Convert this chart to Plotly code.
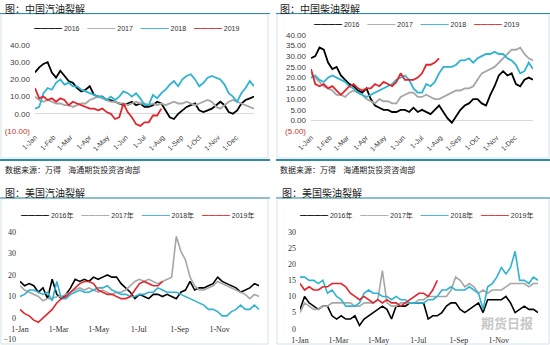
import plotly.graph_objects as go
import pandas as pd

# ---------------- data (weekly readings, one value per week of the year) ----------------
weeks = pd.date_range("2019-01-01", periods=53, freq="7D")

years_cn = ["2016", "2017", "2018", "2019"]
years_us = ["2016年", "2017年", "2018年", "2019年"]
colors = ["#000000", "#a6a6a6", "#2fb3d3", "#e0262c"]

# China gasoline crack
cn_gas_2016 = [24, 27, 29, 30, 24, 21, 25, 22, 19, 18, 15, 13, 14, 16, 11, 10, 10, 8, 8, 7, 6, 5, 6, 7, 5, 6, 4, 4,
               5, 7, 6, 2, -2, -3, 0, 2, 4, 5, 6, 2, 1, 2, 3, 5, 7, 5, 1, 0, 2, 6, 8, 9, 10]
cn_gas_2017 = [10, 8, 7, 8, 7, 6, 6, 5, 5, 4, 5, 6, 6, 8, 9, 10, 9, 8, 7, 7, 6, 6, 5, 6, 7, 6, 6, 5, 6, 5, 6, 5, 6,
               7, 6, 6, 7, 6, 5, 6, 7, 8, 7, 4, 3, 5, 7, 8, 7, 6, 5, 4, 3]
cn_gas_2018 = [3, 4, 12, 15, 14, 18, 20, 17, 18, 16, 16, 14, 13, 12, 11, 10, 10, 8, 10, 8, 10, 13, 12, 10, 12, 9, 5,
               5, 11, 9, 12, 14, 17, 19, 16, 20, 22, 23, 20, 16, 18, 21, 22, 21, 20, 17, 12, 10, 7, 12, 15, 19, 16]
cn_gas_2019 = [15, 9, 10, 8, 9, 7, 9, 8, 5, 7, 6, 5, 4, 3, 3, 2, 3, 1, 0, -3, -2, 6, 1, -2, -6, -7, -5, -5, -1, -1, 3]

# China diesel crack
cn_dsl_2016 = [29, 30, 34, 33, 27, 24, 25, 21, 19, 17, 16, 14, 13, 15, 10, 7, 6, 5, 5, 4, 4, 5, 5, 4, 6, 4, 5, 4, 3,
               5, 7, 4, 1, -1, 2, 5, 7, 8, 10, 10, 8, 7, 12, 16, 21, 23, 21, 22, 17, 16, 19, 20, 19]
cn_dsl_2017 = [22, 20, 18, 16, 15, 14, 12, 12, 11, 13, 14, 13, 12, 10, 9, 8, 10, 9, 9, 8, 8, 11, 12, 13, 13, 11, 11,
               12, 11, 10, 10, 11, 12, 13, 14, 14, 15, 15, 16, 19, 22, 23, 24, 25, 27, 29, 31, 33, 33, 34, 31, 29, 28]
cn_dsl_2018 = [20, 21, 19, 18, 20, 21, 20, 19, 18, 16, 15, 13, 12, 11, 12, 13, 14, 15, 16, 17, 19, 20, 21, 19, 15, 13,
               13, 17, 16, 18, 22, 25, 25, 25, 26, 28, 28, 29, 27, 29, 30, 31, 31, 32, 31, 31, 29, 28, 26, 22, 23, 27, 24]
cn_dsl_2019 = [24, 17, 16, 17, 15, 16, 14, 12, 14, 16, 17, 15, 14, 15, 15, 17, 16, 18, 17, 16, 18, 22, 19, 19, 19, 20,
               22, 26, 26, 27, 29]

# US gasoline crack
us_gas_2016 = [17, 15, 16, 15, 12, 14, 9, 18, 11, 9, 11, 14, 18, 17, 18, 17, 19, 18, 19, 20, 19, 19, 16, 14, 12, 9,
               11, 10, 9, 11, 11, 10, 11, 10, 9, 12, 13, 17, 13, 14, 14, 15, 16, 19, 17, 16, 15, 14, 12, 13, 14, 16, 15]
us_gas_2017 = [15, 13, 12, 11, 10, 8, 9, 9, 10, 10, 11, 12, 13, 14, 13, 14, 13, 12, 13, 12, 11, 12, 12, 13, 15, 17,
               18, 17, 18, 17, 16, 17, 18, 19, 38, 31, 27, 19, 15, 13, 13, 14, 15, 17, 16, 15, 14, 13, 12, 11, 9, 11, 10]
us_gas_2018 = [10, 11, 13, 13, 12, 11, 12, 8, 17, 9, 9, 11, 12, 13, 12, 12, 13, 14, 14, 15, 13, 12, 11, 11, 10, 10,
               11, 11, 12, 12, 14, 13, 12, 12, 12, 11, 10, 9, 8, 7, 6, 4, 4, 3, 1, 1, 3, 4, 6, 4, 4, 6, 4]
us_gas_2019 = [4, 2, 1, -1, -2, 0, 2, 4, 7, 9, 10, 12, 14, 16, 17, 17, 16, 13, 12, 11, 11, 10, 9, 9, 10, 13, 16, 17,
               16, 15, 15, 17]

# US diesel crack
us_dsl_2016 = [6, 10, 8, 7, 6, 7, 7, 4, 3, 4, 3, 3, 4, 1, 3, 4, 5, 6, 7, 6, 3, 7, 7, 7, 8, 8, 8, 8, 3, 4, 4, 5, 7, 8,
               8, 6, 5, 6, 7, 8, 5, 9, 9, 9, 9, 10, 8, 5, 6, 7, 6, 6, 5]
us_dsl_2017 = [5, 8, 7, 6, 6, 7, 7, 8, 8, 8, 8, 8, 7, 7, 8, 8, 8, 9, 18, 8, 7, 7, 8, 8, 8, 8, 9, 9, 10, 10, 10, 10,
               10, 12, 16, 15, 13, 14, 13, 11, 12, 11, 12, 12, 12, 13, 14, 14, 14, 14, 13, 14, 14]
us_dsl_2018 = [16, 16, 15, 15, 14, 15, 11, 12, 10, 9, 7, 7, 7, 8, 11, 12, 11, 11, 10, 10, 9, 10, 9, 9, 8, 8, 8, 8, 9,
               9, 10, 12, 12, 13, 12, 12, 12, 13, 12, 11, 6, 13, 14, 16, 19, 17, 19, 24, 15, 15, 14, 16, 15]
us_dsl_2019 = [14, 12, 13, 12, 12, 13, 13, 14, 14, 14, 13, 11, 10, 9, 10, 9, 8, 9, 8, 9, 8, 8, 7, 8, 9, 10, 11, 11, 10,
               12, 15]

titles = ["图：中国汽油裂解", "图：中国柴油裂解", "图：美国汽油裂解", "图：美国柴油裂解"]
source_text = "数据来源：万得    海通期货投资咨询部"

cn_gas_ticks = [-10, 0, 10, 20, 30, 40]
cn_gas_ticktext = ["(10.00)", "0.00", "10.00", "20.00", "30.00", "40.00"]
cn_dsl_ticks = [-5, 0, 5, 10, 15, 20, 25, 30, 35, 40]
cn_dsl_ticktext = ["(5.00)", "0.00", "5.00", "10.00", "15.00", "20.00", "25.00", "30.00", "35.00", "40.00"]
us_gas_ticks = [-10, 0, 10, 20, 30, 40]
us_dsl_ticks = [0, 5, 10, 15, 20, 25, 30]

# ---------------- figure ----------------
W, H = 550, 345
def px(x):
    return x / W
def py(y):
    return 1 - y / H

fig = go.Figure()

panels = [
    ("x", "y", years_cn, [cn_gas_2016, cn_gas_2017, cn_gas_2018, cn_gas_2019], (137, 28)),
    ("x2", "y2", years_cn, [cn_dsl_2016, cn_dsl_2017, cn_dsl_2018, cn_dsl_2019], (417, 25)),
    ("x3", "y3", years_us, [us_gas_2016, us_gas_2017, us_gas_2018, us_gas_2019], (137, 215)),
    ("x4", "y4", years_us, [us_dsl_2016, us_dsl_2017, us_dsl_2018, us_dsl_2019], (416, 215)),
]
for xa, ya, names, series, _ in panels:
    for name, col, vals in zip(names, colors, series):
        fig.add_trace(go.Scatter(
            x=weeks[:len(vals)], y=vals, mode="lines", name=name,
            line=dict(color=col, width=1.8 if xa in ("x", "x2") else 1.6),
            xaxis=xa, yaxis=ya, showlegend=False))

# compact legends (one row of key lines + year labels per panel)
for xa, ya, names, series, (lx, ly) in panels:
    parts = ['<span style="color:%s">━━━━</span> %s' % (c, n) for n, c in zip(names, colors)]
    fig.add_annotation(text="&nbsp;&nbsp;&nbsp;&nbsp;".join(parts), x=px(lx), y=py(ly), xref="paper",
                       yref="paper", xanchor="center", yanchor="middle", showarrow=False,
                       font=dict(family="Liberation Sans, Noto Sans CJK SC", size=7, color="#303030"))

tick_font = dict(family="Liberation Sans", size=8, color="#404040")
serif_font = dict(family="Liberation Serif", size=8, color="#303030")
xr = ["2019-01-01", "2019-12-31"]

def red(t):
    return '<span style="color:#c0392b">' + t + '</span>'

cn_gas_labels = [red(t) if v < 0 else t for v, t in zip(cn_gas_ticks, cn_gas_ticktext)]
cn_dsl_labels = [red(t) if v < 0 else t for v, t in zip(cn_dsl_ticks, cn_dsl_ticktext)]

y3_range = [-10, 40]
y3_dom = [py(339.5), py(232)]
x3_pos = y3_dom[0] + (0 - y3_range[0]) / (y3_range[1] - y3_range[0]) * (y3_dom[1] - y3_dom[0])

common_x = dict(type="date", range=xr, showgrid=False, zeroline=False, ticks="", automargin=False)
common_y = dict(showgrid=False, ticks="", automargin=False, showline=False)

fig.update_layout(
    width=W, height=H, margin=dict(l=0, r=0, t=0, b=0),
    paper_bgcolor="white", plot_bgcolor="white", showlegend=False,
    xaxis=dict(common_x, domain=[px(35), px(254)], anchor="y", tick0="2019-01-01", dtick="M1",
               tickformat="%-d-%b", tickangle=-45, tickfont=dict(tick_font, size=7), showline=False),
    yaxis=dict(common_y, domain=[py(131), py(45)], range=[-10, 40], anchor="x", tickvals=cn_gas_ticks,
               ticktext=cn_gas_labels, tickfont=tick_font, zeroline=True, zerolinecolor="#d9d9d9",
               zerolinewidth=1, ticklabelstandoff=4),
    xaxis2=dict(common_x, domain=[px(311), px(533)], anchor="y2", tick0="2019-01-01", dtick="M1",
                tickformat="%-d-%b", tickangle=-45, tickfont=dict(tick_font, size=7), showline=False),
    yaxis2=dict(common_y, domain=[py(131.3), py(34.7)], range=[-5, 40], anchor="x2", tickvals=cn_dsl_ticks,
                ticktext=cn_dsl_labels, tickfont=tick_font, zeroline=True, zerolinecolor="#d9d9d9",
                zerolinewidth=1, ticklabelstandoff=4),
    xaxis3=dict(common_x, domain=[px(20), px(259)], anchor="free", position=x3_pos, tick0="2019-01-01",
                dtick="M2", tickformat="%-d-%b", tickangle=0, tickfont=serif_font, showline=False,
                ticklabelstandoff=5),
    yaxis3=dict(common_y, domain=y3_dom, range=y3_range, anchor="x3", tickvals=us_gas_ticks,
                tickfont=serif_font, zeroline=False, ticklabelstandoff=3),
    xaxis4=dict(common_x, domain=[px(300), px(538)], anchor="y4", tick0="2019-01-01", dtick="M2",
                tickformat="%-d-%b", tickangle=0, tickfont=serif_font, showline=False,
                ticklabelstandoff=5),
    yaxis4=dict(common_y, domain=[py(328.7), py(232)], range=[0, 30], anchor="x4", tickvals=us_dsl_ticks,
                tickfont=serif_font, zeroline=False, ticklabelstandoff=3),
)

# titles and source notes
title_pos = [(3, 8), (278, 8), (3, 192), (280, 192)]
for t, (tx, ty) in zip(titles, title_pos):
    fig.add_annotation(text=t, x=px(tx), y=py(ty), xref="paper", yref="paper", xanchor="left",
                       yanchor="middle", showarrow=False,
                       font=dict(family="Noto Sans CJK SC", size=10, color="#1a1a1a"))
for sx in (3, 278):
    fig.add_annotation(text=source_text, x=px(sx), y=py(169), xref="paper", yref="paper", xanchor="left",
                       yanchor="middle", showarrow=False,
                       font=dict(family="Noto Sans CJK SC", size=8, color="#1a1a1a"))

# watermark
fig.add_annotation(text="<b>期货日报</b>", x=px(507), y=py(322), xref="paper", yref="paper",
                   xanchor="center", yanchor="middle", showarrow=False,
                   font=dict(family="Noto Sans CJK SC", size=13, color="#c8c8c8"))

# frames and teal separators
frame_col = "#d5e2e7"
teal = "#2f8da3"
for (x0, y0, x1, y1) in [(1, 14, 268, 158), (277, 14, 549, 158), (1, 198, 268, 344), (277, 198, 549, 344)]:
    fig.add_shape(type="rect", xref="paper", yref="paper", x0=px(x0), x1=px(x1), y0=py(y1), y1=py(y0),
                  line=dict(color=frame_col, width=1), layer="below")
for (x0, x1, yy, w) in [(0, 270, 13.5, 1.2), (276, 550, 13.5, 1.2), (0, 270, 160, 2), (276, 550, 160, 2),
                         (0, 270, 198, 1.2), (276, 550, 198, 1.2)]:
    fig.add_shape(type="line", xref="paper", yref="paper", x0=px(x0), x1=px(x1), y0=py(yy), y1=py(yy),
                  line=dict(color=teal, width=w))

fig.write_html("out.html")
